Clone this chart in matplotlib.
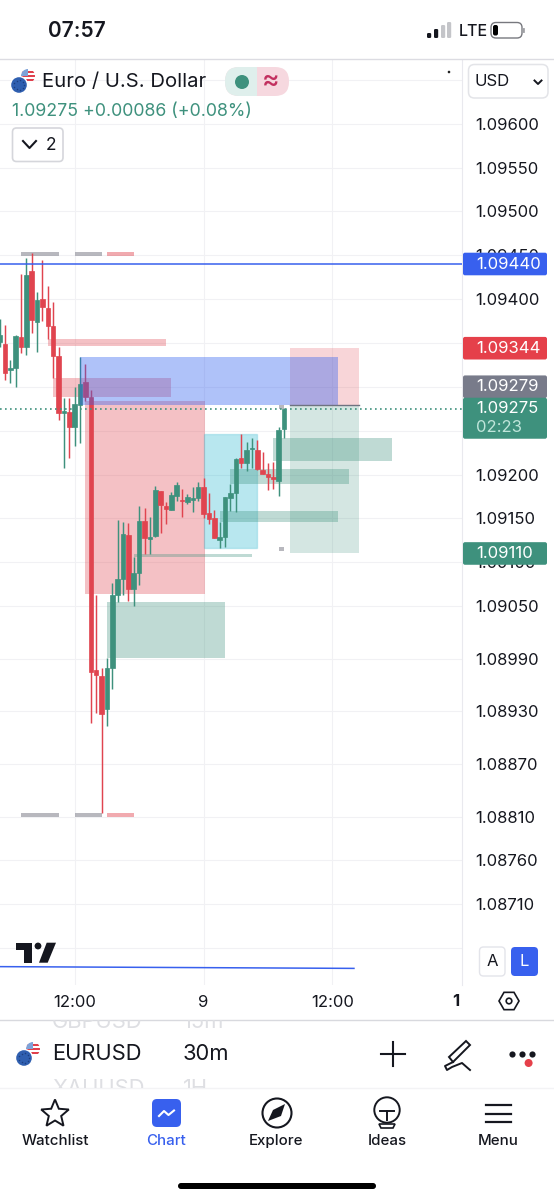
import numpy as np
import matplotlib
matplotlib.use('Agg')
import matplotlib.pyplot as plt
from matplotlib.patches import Rectangle, FancyBboxPatch, Circle, Polygon

plt.rcParams['font.family'] = ['Inter', 'DejaVu Sans']

# candles (30m EURUSD), prices in 1e-5
opens = [109351,109349,109319,109321,109357,109345,109432,109374,109400,109390,109369,109335,109270,109271,109254,109279,
         109305,109288,108977,108970,108933,108979,109063,109081,109131,109069,109088,109147,109127,109130,109181,109164,
         109160,109176,109171,109169,109171,109173,109186,109156,109150,109125,109129,109173,109179,109219,109213,109229,
         109228,109205,109201,109197,109193,109252]
highs = [109377,109370,109331,109359,109429,109447,109453,109408,109445,109415,109397,109345,109287,109287,109300,109334,
         109326,109296,109063,108979,108991,109076,109148,109146,109145,109106,109164,109162,109152,109187,109181,109169,
         109180,109191,109183,109178,109186,109191,109196,109179,109160,109146,109174,109189,109219,109246,109237,109242,
         109239,109226,109213,109214,109254,109276]
lows = [109345,109308,109304,109300,109339,109336,109361,109340,109375,109354,109310,109262,109207,109219,109233,109236,
        109284,108917,108928,108814,108913,108955,109055,109063,109056,109050,109074,109109,109109,109129,109133,109144,
        109160,109170,109152,109166,109157,109170,109150,109144,109128,109116,109117,109158,109157,109207,109204,109207,
        109205,109201,109182,109183,109176,109242]
closes = [109359,109316,109321,109358,109345,109427,109376,109399,109391,109369,109335,109270,109272,109254,109280,109303,
          109288,108975,108971,108927,108979,109063,109081,109132,109069,109088,109147,109128,109129,109182,109165,109161,
          109177,109188,109170,109174,109173,109186,109155,109149,109128,109129,109174,109179,109218,109213,109228,109230,
          109206,109201,109197,109195,109251,109275]

# drawn zones: first bar, last bar, top price, bottom price
red_zones = [(16, 38.2, 109284, 109064), (9, 31, 109354, 109347), (10, 32, 109310, 109288)]
blue_zones = [(15, 63, 109334, 109279)]
target_red = [(54, 67, 109344, 109279)]
target_green = [(54, 67, 109279, 109110)]
cyan_zones = [(38, 48, 109246, 109116)]
green_zones = [(51, 73, 109242, 109215), (43, 65, 109206, 109189), (41, 63, 109158, 109146),
               (25, 47, 109109, 109106), (20, 42, 109055, 108991)]
grey_marks = [(4, 11, 109454, 109449), (14, 19, 109454, 109449), (4, 11, 108814, 108810), (14, 19, 108814, 108810),
              (52, 53, 109117, 109113), (52, 53, 109279, 109275)]
pink_marks = [(20, 25, 109454, 109449), (20, 25, 108814, 108810)]

hline_price = 1.09440
last_price = 1.09275
low_line = [(0, 1.08639), (66, 1.08637)]

price_ticks = [1.09650, 1.09600, 1.09550, 1.09500, 1.09450, 1.09400, 1.09350, 1.09300, 1.09250, 1.09200, 1.09150,
               1.09100, 1.09050, 1.08990, 1.08930, 1.08870, 1.08810, 1.08760, 1.08710, 1.08660]
hidden_labels = [1.09650, 1.09350, 1.09300, 1.09250, 1.08660]
time_ticks = [14, 38, 62]
time_labels = ['12:00', '9', '12:00']

# (price, label, colour)
price_tags = [(1.09440, '1.09440', '#3860EE'), (1.09344, '1.09344', '#E5404A'),
              (1.09279, '1.09279', '#787B8A'), (1.09110, '1.09110', '#3E917D')]

GREEN = '#3E917D'
RED = '#E0444F'
GRID = '#F1F1F4'
INK = '#15171F'

fig = plt.figure(figsize=(5.54, 12), dpi=100)
fig.patch.set_facecolor('white')

# chart panel: 0..462 px wide, 60..985 px down
ax = fig.add_axes([0, (1200 - 985) / 1200, 462 / 554, 925 / 1200])
ax.set_xlim(0.093, 86.12)
ax.set_ylim(1.0861806, 1.0967256)
ax.set_xticks(time_ticks)
ax.set_xticklabels(time_labels)
ax.set_yticks(price_ticks)
ax.set_yticklabels(['' if p in hidden_labels else '%.5f' % p for p in price_ticks])
ax.yaxis.tick_right()
ax.tick_params(axis='both', length=0, labelsize=12, labelcolor=INK)
ax.tick_params(axis='y', pad=9.3)
ax.tick_params(axis='x', pad=7.5)
ax.grid(True, color=GRID, lw=0.8)
ax.set_axisbelow(True)
for s in ['left', 'top', 'bottom']:
    ax.spines[s].set_visible(False)
ax.spines['right'].set_color('#E9E9EE')


def zones(rows, color, alpha, z, edge=None):
    for x0, x1, top, bottom in rows:
        ax.add_patch(Rectangle((x0, bottom / 1e5), x1 - x0, (top - bottom) / 1e5, facecolor=color, alpha=alpha,
                               edgecolor=edge if edge else 'none', lw=1 if edge else 0, zorder=z))


zones(red_zones, RED, 0.33, 1)
zones(target_red, RED, 0.22, 1)
zones(target_green, GREEN, 0.22, 1)
zones(cyan_zones, '#00ACC8', 0.28, 1, edge='#45BBD0')
zones(green_zones, GREEN, 0.33, 1)
zones(grey_marks, '#9A9BA3', 0.7, 1)
zones(pink_marks, RED, 0.45, 1)

o = np.array(opens) / 1e5
h = np.array(highs) / 1e5
l = np.array(lows) / 1e5
c = np.array(closes) / 1e5
idx = np.arange(len(o))
cols = [GREEN if c[i] >= o[i] else RED for i in idx]
ax.vlines(idx, l, h, colors=cols, lw=1.05, zorder=2)
ax.bar(idx, np.abs(c - o), bottom=np.minimum(o, c), width=0.85, color=cols, edgecolor=cols, lw=0.5, zorder=2)

# blue order block sits over the candles
zones(blue_zones, '#2F5FF0', 0.38, 3)

ax.plot([54, 67], [1.09279, 1.09279], color='#6F7280', lw=1, zorder=3)
ax.axhline(hline_price, color='#3860EE', lw=1.1, zorder=4)
ax.plot([p[0] for p in low_line], [p[1] for p in low_line], color='#3860EE', lw=1.1, zorder=4)
ax.axhline(last_price, color=GREEN, lw=1.2, ls=(0, (1, 2)), zorder=4)

# everything around the chart, in screen pixels
ui = fig.add_axes([0, 0, 1, 1], zorder=5)
ui.set_xlim(0, 554)
ui.set_ylim(1200, 0)
ui.axis('off')
ui.patch.set_alpha(0)


def py(price):
    return 60 + (1.0967256 - price) / (1.0967256 - 1.0861806) * 925


def rbox(x0, y0, x1, y1, r=3, fc='white', ec='none', lw=1):
    ui.add_patch(FancyBboxPatch((x0, y0), x1 - x0, y1 - y0, boxstyle='round,pad=0,rounding_size=%s' % r, fc=fc, ec=ec, lw=lw))


def flag(cx, cy):
    flag_c = Circle((cx + 9, cy - 9), 7, fc='white', ec='none')
    ui.add_patch(flag_c)
    for k in range(3):
        st = Rectangle((cx + 1, cy - 14 + k * 4), 16, 2, fc='#E0404C', ec='none')
        ui.add_patch(st)
        st.set_clip_path(flag_c)
    cant = Rectangle((cx + 1, cy - 17), 8, 8, fc='#7FA2D8', ec='none')
    ui.add_patch(cant)
    cant.set_clip_path(flag_c)
    ui.add_patch(Circle((cx, cy), 8.5, fc='#2F5FB0', ec='white', lw=1))
    ang = np.linspace(0, 2 * np.pi, 10)[:-1]
    ui.scatter(cx + 4.8 * np.cos(ang), cy + 4.8 * np.sin(ang), s=1.2, color='#1D3F80', lw=0)


# status bar
ui.text(48, 31, '07:57', fontsize=15, fontweight='semibold', color=INK, va='center')
for x, hgt, col in [(427, 5, INK), (434, 9, INK), (441, 13, '#C4C5C9'), (447, 16, '#C4C5C9')]:
    rbox(x, 38 - hgt, x + 4.2, 38, r=1.3, fc=col)
ui.text(459, 31, 'LTE', fontsize=11.5, fontweight='medium', color=INK, va='center')
rbox(491, 22.5, 522, 38, r=5, ec='#77787E', lw=1)
rbox(493, 25, 498, 35.5, r=2, fc='black')
rbox(523.3, 28, 524.6, 33, r=0.5, fc='#77787E')

# header
ui.plot([0, 554], [59, 59], color='#DCDCE2', lw=1)
flag(19, 85)
ui.text(42, 82, 'Euro / U.S. Dollar', fontsize=14.6, color=INK, va='center')
rbox(225, 67, 289, 96, r=14, fc='#F6D8DF')
rbox(225, 67, 270, 96, r=14, fc='#DFEFEC')
ui.add_patch(Rectangle((257, 67), 16, 29, fc='#F6D8DF', ec='none'))
ui.add_patch(Circle((242, 82), 7, fc=GREEN, ec='none'))
ui.text(271, 81, '≈', fontsize=19, color='#C2305F', ha='center', va='center', fontweight='medium')
ui.text(12, 112, '1.09275 +0.00086 (+0.08%)', fontsize=12.8, color=GREEN, va='center')
rbox(12.5, 128, 63, 161.5, r=4, ec='#D5D6DB', lw=1.2)
ui.plot([23, 29.5, 36], [141, 148, 141], color=INK, lw=1.5)
ui.text(51, 145, '2', fontsize=12.5, color=INK, ha='center', va='center')
ui.add_patch(Circle((449, 72), 1.3, fc='#222222', ec='none'))

rbox(468.5, 64.5, 548, 98, r=6, ec='#E3E4E8', lw=1.1)
ui.text(474, 82, 'USD', fontsize=12, color=INK, va='center')
ui.plot([534.5, 538, 541.5], [80.5, 84, 80.5], color=INK, lw=1.4)

# price tags over the axis labels
for price, txt, col in price_tags:
    yc = py(price)
    if txt == '1.09279':
        # pushed up by the last price tag
        yc -= 18.5
    rbox(463, yc - 11.3, 547, yc + 11.3, r=2, fc=col)
    ui.text(476, yc, txt, fontsize=12, color='white', va='center')
yc = py(last_price)
rbox(463, yc - 11, 547, yc + 30, r=2, fc=GREEN)
ui.text(476, yc, '%.5f' % last_price, fontsize=12, color='white', va='center')
ui.text(476, yc + 19, '02:23', fontsize=12, color='#BFE5DA', va='center')

# TV logo
ui.add_patch(Polygon([(16, 942.7), (32.3, 942.7), (32.3, 962.7), (24, 962.7), (24, 950), (16, 950)], fc=INK, ec='none'))
ui.add_patch(Circle((38, 946), 3.4, fc=INK, ec='none'))
ui.add_patch(Polygon([(46.7, 942.7), (56, 942.7), (47.7, 962.7), (39, 962.7)], fc=INK, ec='none'))

# A / L buttons, time axis corner
rbox(479.5, 947, 505, 976, r=4, ec='#E3E4EA', lw=1)
ui.text(492.2, 962, 'A', fontsize=12, color=INK, ha='center', va='center')
rbox(511, 947, 538, 976, r=4, fc='#3860EE')
ui.text(524.5, 962, 'L', fontsize=12, color='white', ha='center', va='center')
ui.text(456, 1001, '1', fontsize=12, fontweight='bold', color=INK, ha='center', va='center')
ang = np.radians(np.arange(0, 360, 60))
ui.add_patch(Polygon(np.c_[509 + 10 * np.cos(ang), 1001 + 10 * np.sin(ang)], fc='none', ec=INK, lw=1.2))
ui.add_patch(Circle((509, 1001), 2.8, fc='none', ec=INK, lw=1.2))

# symbol strip
ui.plot([0, 554], [1019.5, 1019.5], color='#D8D9DE', lw=1)
strip_clip = Rectangle((0, 1020), 554, 68, transform=ui.transData)
for txt, x, y in [('GBPUSD', 52, 1022), ('15m', 183, 1022), ('XAUUSD', 52, 1089), ('1H', 183, 1089)]:
    t = ui.text(x, y, txt, fontsize=15.8, color='#DEDFE3', va='center')
    t.set_clip_on(True)
    t.set_clip_path(strip_clip)
flag(24, 1058)
ui.text(52, 1054, 'EURUSD', fontsize=15.8, color=INK, va='center')
ui.text(183, 1054, '30m', fontsize=15.8, color=INK, va='center')
ui.plot([381, 405], [1054, 1054], color=INK, lw=1.5)
ui.plot([393, 393], [1042, 1066], color=INK, lw=1.5)
ui.add_patch(Polygon([(449, 1057), (466, 1041), (470, 1045), (453, 1062)], fc='none', ec=INK, lw=1.4))
ui.plot([453, 445, 447, 452, 462, 470], [1062, 1066, 1070, 1067, 1063, 1070], color=INK, lw=1.4)
ui.scatter([512, 522, 532], [1054, 1054, 1054], s=20, color=INK, lw=0)
ui.add_patch(Circle((528.6, 1063), 4, fc='#E5404A', ec='none'))
ui.plot([0, 554], [1088, 1088], color='#F3F3F5', lw=1)

# bottom nav
a = np.radians(np.arange(-90, 270, 36))
r = np.where(np.arange(10) % 2 == 0, 14.5, 6.5)
ui.add_patch(Polygon(np.c_[55 + r * np.cos(a), 1114 + r * np.sin(a)], fc='none', ec=INK, lw=1.4))
rbox(152, 1099, 181, 1127, r=5, fc='#3860EE')
ui.plot([159, 164, 168.5, 174], [1116, 1111, 1115, 1110.5], color='white', lw=1.5)
ui.add_patch(Circle((277, 1113), 14.5, fc='none', ec=INK, lw=1.5))
ui.add_patch(Polygon([(268, 1121), (273, 1110), (285, 1104), (281, 1116)], fc=INK, ec='none'))
ui.add_patch(Circle((387, 1110), 12.7, fc='none', ec=INK, lw=1.4))
ui.plot([380, 394], [1111, 1111], color=INK, lw=1.4)
ui.plot([387, 387], [1111, 1120], color=INK, lw=1.4)
ui.add_patch(Polygon([(379, 1124), (395, 1124), (393, 1128), (381, 1128)], fc='none', ec=INK, lw=1.2))
for y in [1105, 1113.5, 1122]:
    ui.plot([486, 511], [y, y], color=INK, lw=1.6)
for txt, x, col in [('Watchlist', 55, INK), ('Chart', 166, '#3860EE'), ('Explore', 276, INK), ('Ideas', 387, INK), ('Menu', 498, INK)]:
    ui.text(x, 1141, txt, fontsize=10.8, fontweight='medium', color=col, ha='center', va='center')
rbox(178, 1183, 376, 1189, r=3, fc='black')

fig.savefig('out.png', dpi=100)
